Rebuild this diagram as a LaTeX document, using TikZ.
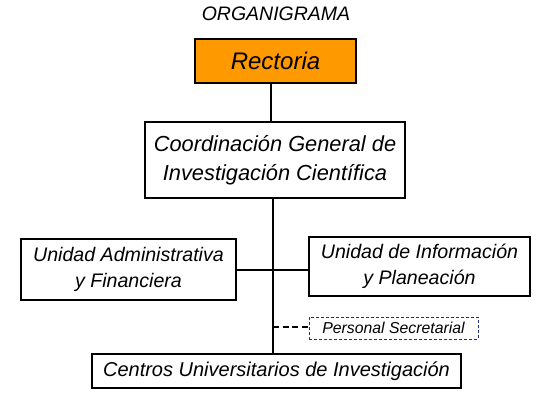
\documentclass[tikz,border=0pt]{standalone}
\usepackage{fontspec}
\setmainfont{Liberation Sans}
\begin{document}
\begin{tikzpicture}[x=1pt,y=-1pt,
  box/.style={draw=black,line width=1.6pt,fill=white,inner sep=0pt,font=\itshape,align=center},
  conn/.style={line width=1.4pt},
  dconn/.style={line width=1.3pt,dash pattern=on 6pt off 3.5pt}]
\useasboundingbox (0,0) rectangle (551,402);
\definecolor{orangebox}{HTML}{FF9900}
\definecolor{navy}{HTML}{1F2A8C}
\node[font=\itshape\fontsize{19.5}{22}\selectfont] (title) at (276,14) {ORGANIGRAMA};
\node[box,fill=orangebox,minimum width=161pt,minimum height=44pt,font=\itshape\fontsize{24}{26}\selectfont] (rect) at (275.5,61) {Rectoria};
\node[box,minimum width=260pt,minimum height=76pt,font=\itshape\fontsize{21.8}{29}\selectfont] (coord) at (275,160) {Coordinación General de\\Investigación Científica};
\node[box,minimum width=215pt,minimum height=61pt,font=\itshape\fontsize{19.6}{26}\selectfont] (adm) at (128.5,269.5) {Unidad Administrativa\\y Financiera};
\node[box,minimum width=221pt,minimum height=59pt,font=\itshape\fontsize{19.6}{26}\selectfont] (inf) at (419.5,266.5) {Unidad de Información\\y Planeación};
\node[draw=navy,line width=0.7pt,dash pattern=on 3pt off 2pt,inner sep=0pt,minimum width=169pt,minimum height=22pt,font=\itshape\fontsize{15.8}{18}\selectfont] (pers) at (393.5,328) {Personal Secretarial};
\node[box,minimum width=369pt,minimum height=34pt,font=\itshape\fontsize{20}{23}\selectfont] (cent) at (276.5,371) {Centros Universitarios de Investigación};
\coordinate (top) at (271,83);
\coordinate (vl) at (273,0);
\coordinate (mid) at (273,270);
\coordinate (sec) at (273,327);
\draw[conn] (rect.south -| top) -- (coord.north -| top);
\draw[conn] (coord.south -| vl) -- (cent.north -| vl);
\draw[conn] (adm.east |- mid) -- (inf.west |- mid);
\draw[dconn] (sec) -- (pers.west |- sec);
\end{tikzpicture}
\end{document}
